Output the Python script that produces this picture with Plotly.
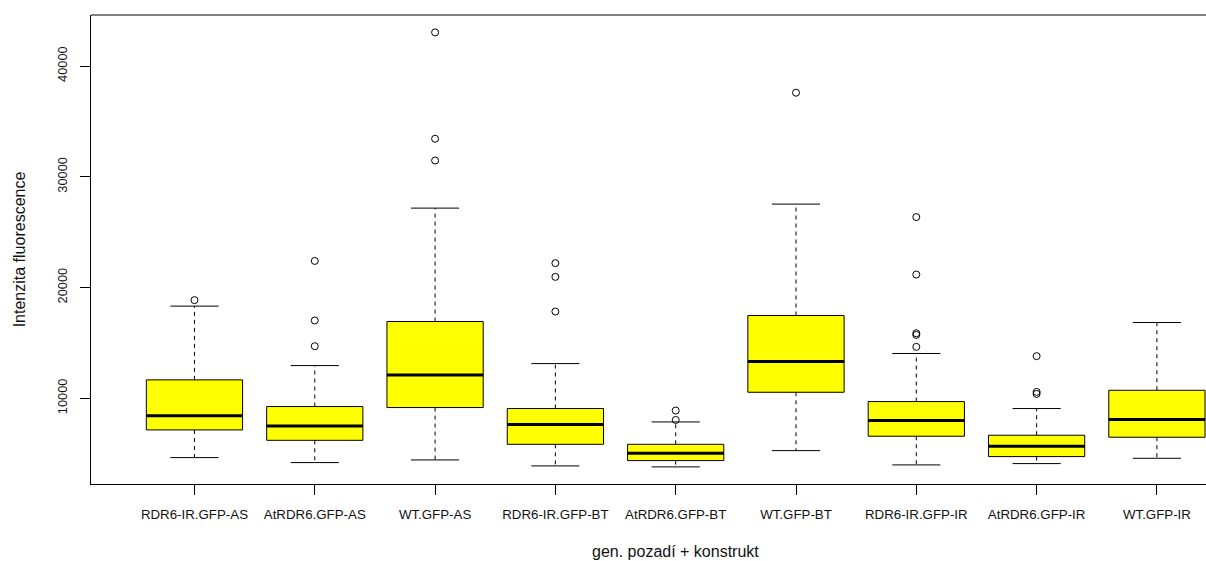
import plotly.graph_objects as go

categories = ["RDR6-IR.GFP-AS", "AtRDR6.GFP-AS", "WT.GFP-AS",
              "RDR6-IR.GFP-BT", "AtRDR6.GFP-BT", "WT.GFP-BT",
              "RDR6-IR.GFP-IR", "AtRDR6.GFP-IR", "WT.GFP-IR"]
q1 = [7140, 6200, 9160, 5840, 4370, 10540, 6570, 4730, 6480]
median = [8430, 7500, 12110, 7620, 5030, 13310, 7980, 5660, 8070]
q3 = [11660, 9250, 16930, 9070, 5840, 17470, 9700, 6660, 10720]
whisker_low = [4640, 4190, 4430, 3890, 3800, 5270, 3980, 4100, 4580]
whisker_high = [18320, 12950, 27170, 13130, 7860, 27530, 14040, 9070, 16840]
outliers = [
    [18860],
    [22400, 17020, 14700],
    [43040, 33430, 31470],
    [22200, 20960, 17830],
    [8890, 8040],
    [37590],
    [26360, 21170, 15870, 15720, 14640],
    [13800, 10570, 10390],
    [],
]
y_ticks = [10000, 20000, 30000, 40000]

positions = list(range(1, len(categories) + 1))
BOX_W = 0.8
STAPLE_W = 0.4

fig = go.Figure()

for p, a, m, b in zip(positions, q1, median, q3):
    fig.add_trace(go.Box(
        x=[p], q1=[a], median=[m], q3=[b], lowerfence=[a], upperfence=[b],
        width=BOX_W, fillcolor="#FFFF00", line=dict(color="black", width=1),
        whiskerwidth=0, boxpoints=False, showlegend=False, hoverinfo="skip"))

# dashed whiskers
wx, wy = [], []
for p, a, b, lo, hi in zip(positions, q1, q3, whisker_low, whisker_high):
    wx += [p, p, None, p, p, None]
    wy += [b, hi, None, a, lo, None]
fig.add_trace(go.Scatter(x=wx, y=wy, mode="lines",
                         line=dict(color="black", width=1, dash="4px,4px"),
                         showlegend=False, hoverinfo="skip"))

# staples
sx, sy = [], []
for p, lo, hi in zip(positions, whisker_low, whisker_high):
    sx += [p - STAPLE_W / 2, p + STAPLE_W / 2, None, p - STAPLE_W / 2, p + STAPLE_W / 2, None]
    sy += [hi, hi, None, lo, lo, None]
fig.add_trace(go.Scatter(x=sx, y=sy, mode="lines",
                         line=dict(color="black", width=1),
                         showlegend=False, hoverinfo="skip"))

# thick medians
mx, my = [], []
for p, m in zip(positions, median):
    mx += [p - BOX_W / 2, p + BOX_W / 2, None]
    my += [m, m, None]
fig.add_trace(go.Scatter(x=mx, y=my, mode="lines",
                         line=dict(color="black", width=3),
                         showlegend=False, hoverinfo="skip"))

# outliers
ox, oy = [], []
for p, outs in zip(positions, outliers):
    for v in outs:
        ox.append(p)
        oy.append(v)
fig.add_trace(go.Scatter(x=ox, y=oy, mode="markers",
                         marker=dict(symbol="circle-open", size=7, color="black",
                                     line=dict(width=1, color="black")),
                         showlegend=False, hoverinfo="skip"))

font_family = "Liberation Sans, Arial, sans-serif"

fig.update_layout(
    width=1206, height=561,
    margin=dict(l=91, r=0, t=15, b=77, autoexpand=False),
    paper_bgcolor="white", plot_bgcolor="white",
    boxmode="overlay",
    font=dict(family=font_family, color="#111111"),
    xaxis=dict(
        range=[0.14, 9.408], tickmode="array", tickvals=positions, ticktext=categories,
        ticks="outside", ticklen=10, tickcolor="black", tickwidth=1,
        showline=True, linecolor="black", linewidth=1,
        showgrid=False, zeroline=False, automargin=False,
        tickfont=dict(size=13.3, family=font_family, color="#111111"),
        ticklabelstandoff=8,
    ),
    yaxis=dict(
        range=[2256, 44608], tickmode="array", tickvals=y_ticks,
        ticktext=[str(v) for v in y_ticks], tickangle=-90,
        ticks="outside", ticklen=10, tickcolor="black", tickwidth=1,
        showline=True, linecolor="black", linewidth=1,
        showgrid=False, zeroline=False, automargin=False,
        tickfont=dict(size=12.8, family=font_family, color="#111111"),
        ticklabelstandoff=8,
        title=dict(text="Intenzita fluorescence", standoff=25,
                   font=dict(size=16, family=font_family, color="#111111")),
    ),
    shapes=[dict(type="line", xref="paper", yref="paper", x0=0, x1=1, y0=1, y1=1,
                 line=dict(color="black", width=1))],
    annotations=[dict(text="gen. pozadí + konstrukt", x=5, xref="x",
                      y=-(551 - 484) / 469, yref="paper", yanchor="middle",
                      showarrow=False,
                      font=dict(size=16, family=font_family, color="#111111"))],
)

fig.write_html("out.html",
               config={"displayModeBar": False},
               post_script="document.body.style.margin='0';document.body.style.padding='0';document.body.style.overflow='hidden';")
